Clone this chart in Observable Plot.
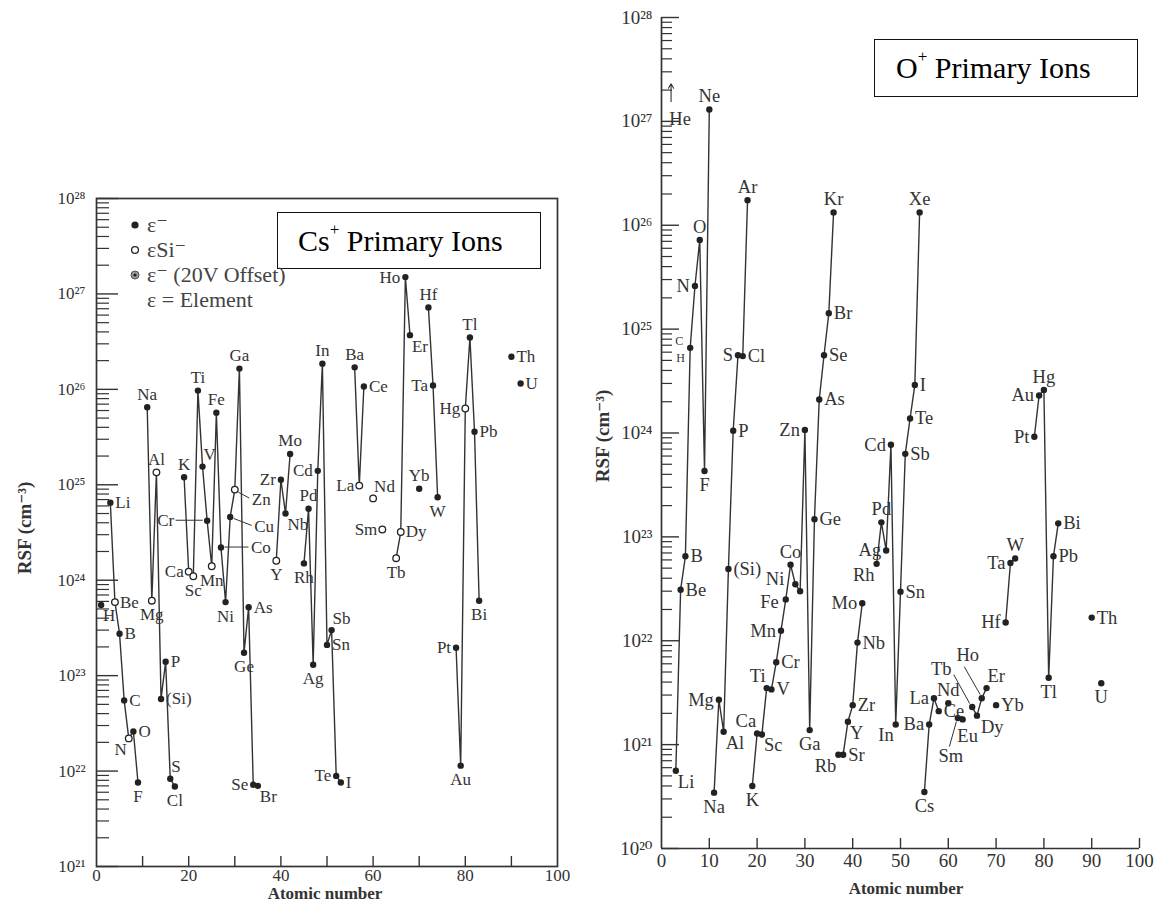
<!DOCTYPE html>
<html>
<head>
<meta charset="utf-8">
<script src="https://cdn.jsdelivr.net/npm/d3@7"></script>
<script src="https://cdn.jsdelivr.net/npm/@observablehq/plot@0.6"></script>
<style>
html,body{margin:0;padding:0;background:#fff;}
body{width:1156px;height:903px;position:relative;overflow:hidden;font-family:"Liberation Serif","Times New Roman",Times,"DejaVu Serif",serif;color:#333;}
.panel{position:absolute;}
.box{position:absolute;border:1.5px solid #111;background:#fff;color:#000;font-size:30px;box-sizing:border-box;display:flex;align-items:center;white-space:nowrap;}
.box sup{font-size:17px;position:relative;top:-11px;vertical-align:0;}
.ytitle{position:absolute;width:200px;height:24px;line-height:24px;text-align:center;font-weight:bold;font-size:19px;transform:rotate(-90deg);color:#333;white-space:nowrap;}
.xtitle{position:absolute;width:220px;height:18px;text-align:center;font-weight:bold;font-size:17px;line-height:18px;color:#333;white-space:nowrap;}
#legend{position:absolute;left:120px;top:210px;}
</style>
</head>
<body>
<div id="left" class="panel" style="left:0;top:150px;width:580px;height:753px"></div>
<div id="right" class="panel" style="left:600px;top:0;width:556px;height:903px"></div>
<div class="box" style="left:277px;top:212px;width:264px;height:57px;padding-left:20px">Cs<sup>+</sup>&nbsp;Primary Ions</div>
<div class="box" style="left:874px;top:39px;width:264px;height:58px;padding-left:21px">O<sup>+</sup>&nbsp;Primary Ions</div>
<div class="ytitle" style="left:-75px;top:516px">RSF (cm⁻³)</div>
<div class="ytitle" style="left:503px;top:424px">RSF (cm⁻³)</div>
<div class="xtitle" style="left:215px;top:885px">Atomic number</div>
<div class="xtitle" style="left:796px;top:880px">Atomic number</div>
<svg id="legend" width="200" height="110"></svg>
<script>
// ---------------- Cs+ primary ions (left panel) ----------------
const csElements = ["H","Li","Be","B","C","N","O","F","Na","Mg","Al","(Si)","P","S","Cl","K","Ca","Sc","Ti","V","Cr","Mn","Fe","Co","Ni","Cu","Zn","Ga","Ge","As","Se","Br","Y","Zr","Nb","Mo","Rh","Pd","Ag","Cd","In","Sn","Sb","Te","I","Ba","La","Ce","Nd","Sm","Tb","Dy","Ho","Er","Yb","Hf","Ta","W","Pt","Au","Hg","Tl","Pb","Bi","Th","U"];
const csZ = [1,3,4,5,6,7,8,9,11,12,13,14,15,16,17,19,20,21,22,23,24,25,26,27,28,29,30,31,32,33,34,35,39,40,41,42,45,46,47,48,49,50,51,52,53,56,57,58,60,62,65,66,67,68,70,72,73,74,78,79,80,81,82,83,90,92];
const csRSF = [5.5e23,6.5e24,5.9e23,2.75e23,5.5e22,2.2e22,2.6e22,7.6e21,
  6.5e25,6.1e23,1.35e25,5.7e22,1.4e23,8.3e21,6.9e21,
  1.2e25,1.23e24,1.1e24,9.7e25,1.55e25,4.2e24,1.4e24,5.7e25,2.2e24,5.9e23,4.6e24,8.9e24,1.65e26,1.74e23,5.2e23,7.2e21,7.0e21,
  1.6e24,1.13e25,5.0e24,2.1e25,1.5e24,5.6e24,1.3e23,1.4e25,1.86e26,2.1e23,3.0e23,8.9e21,7.6e21,
  1.7e26,9.8e24,1.07e26,7.2e24,3.4e24,1.7e24,3.2e24,1.5e27,3.7e26,9.1e24,7.2e26,1.1e26,7.4e24,
  1.96e23,1.14e22,6.3e25,3.5e26,3.6e25,6.1e23,2.2e26,1.15e26];
// "e" = ε⁻ (filled), "eSi" = εSi⁻ (open)
const csIon = ["e","e","eSi","e","e","eSi","e","e",
  "e","eSi","eSi","e","e","e","e",
  "e","eSi","eSi","e","e","e","eSi","e","e","e","e","eSi","e","e","e","e","e",
  "eSi","e","e","e","e","e","e","e","e","e","e","e","e",
  "e","eSi","e","eSi","eSi","eSi","eSi","e","e","e","e","e","e",
  "e","e","eSi","e","e","e","e","e"];
const csChains = [
  ["Li","Be","B","C","N","O","F"],
  ["Na","Mg","Al","(Si)","P","S","Cl"],
  ["K","Ca","Sc","Ti","V","Cr","Mn","Fe","Co","Ni","Cu","Zn","Ga","Ge","As","Se","Br"],
  ["Y","Zr","Nb","Mo"],
  ["Rh","Pd","Ag","Cd","In","Sn","Sb","Te","I"],
  ["Ba","La","Ce"],
  ["Tb","Dy","Ho","Er"],
  ["Hf","Ta","W"],
  ["Pt","Au","Hg","Tl","Pb","Bi"]
];
const csYTicks = [1e21,1e22,1e23,1e24,1e25,1e26,1e27,1e28];
const csYTickLabels = ["10²¹","10²²","10²³","10²⁴","10²⁵","10²⁶","10²⁷","10²⁸"];
const csXTicks = [0,20,40,60,80,100];

// ---------------- O+ primary ions (right panel) ----------------
const oElements = ["H","He","Li","Be","B","C","N","O","F","Ne","Na","Mg","Al","(Si)","P","S","Cl","Ar","K","Ca","Sc","Ti","V","Cr","Mn","Fe","Co","Ni","Cu","Zn","Ga","Ge","As","Se","Br","Kr","Rb","Sr","Y","Zr","Nb","Mo","Rh","Pd","Ag","Cd","In","Sn","Sb","Te","I","Xe","Cs","Ba","La","Ce","Nd","Sm","Eu","Tb","Dy","Ho","Er","Yb","Hf","Ta","W","Pt","Au","Hg","Tl","Pb","Bi","Th","U"];
const oZ = [1,2,3,4,5,6,7,8,9,10,11,12,13,14,15,16,17,18,19,20,21,22,23,24,25,26,27,28,29,30,31,32,33,34,35,36,37,38,39,40,41,42,45,46,47,48,49,50,51,52,53,54,55,56,57,58,60,62,63,65,66,67,68,70,72,73,74,78,79,80,81,82,83,90,92];
const oRSF = [5.2e24,1.55e27,5.6e20,3.1e22,6.5e22,6.6e24,2.6e25,7.2e25,4.3e23,1.3e27,
  3.45e20,2.7e21,1.33e21,4.9e22,1.05e24,5.6e24,5.5e24,1.74e26,
  4.0e20,1.28e21,1.25e21,3.5e21,3.4e21,6.2e21,1.25e22,2.5e22,5.4e22,3.5e22,3.0e22,1.07e24,1.38e21,1.48e23,2.1e24,5.6e24,1.42e25,1.33e26,
  8.0e20,8.0e20,1.66e21,2.4e21,9.6e21,2.3e22,
  5.5e22,1.38e23,7.4e22,7.7e23,1.56e21,2.96e22,6.3e23,1.38e24,2.9e24,1.33e26,
  3.5e20,1.56e21,2.8e21,2.1e21,2.5e21,1.8e21,1.75e21,2.3e21,1.9e21,2.8e21,3.5e21,2.4e21,
  1.5e22,5.6e22,6.2e22,
  9.2e23,2.3e24,2.6e24,4.4e21,6.5e22,1.35e23,
  1.67e22,3.9e21];
const heArrowTip = 2.3e27; // He: off-scale arrow
const oChains = [
  ["Li","Be","B","C","N","O","F","Ne"],
  ["Na","Mg","Al","(Si)","P","S","Cl","Ar"],
  ["K","Ca","Sc","Ti","V","Cr","Mn","Fe","Co","Ni","Cu","Zn","Ga","Ge","As","Se","Br","Kr"],
  ["Rb","Sr","Y","Zr","Nb","Mo"],
  ["Rh","Pd","Ag","Cd","In","Sn","Sb","Te","I","Xe"],
  ["Cs","Ba","La","Ce"],
  ["Sm","Eu"],
  ["Tb","Dy","Ho","Er"],
  ["Hf","Ta","W"],
  ["Pt","Au","Hg","Tl","Pb","Bi"]
];
const oYTicks = [1e20,1e21,1e22,1e23,1e24,1e25,1e26,1e27,1e28];
const oYTickLabels = ["10²⁰","10²¹","10²²","10²³","10²⁴","10²⁵","10²⁶","10²⁷","10²⁸"];
const oXTicks = [0,10,20,30,40,50,60,70,80,90,100];

// ---------------- label placement (styling) ----------------
const basePlaces = {
  r:  {anchor:"start", dx:5, dy:0},
  l:  {anchor:"end", dx:-5, dy:0},
  t:  {anchor:"middle", dx:0, dy:-13},
  b:  {anchor:"middle", dx:0, dy:14},
  tr: {anchor:"start", dx:1, dy:-12},
  tl: {anchor:"end", dx:-1, dy:-12},
  br: {anchor:"start", dx:2, dy:11},
  bl: {anchor:"end", dx:-2, dy:11}
};
const csPlaces = Object.assign({}, basePlaces, {
  Lcr: {anchor:"end", dx:-33, dy:0, leader:[-4,0,-31,0]},
  Lco: {anchor:"start", dx:30, dy:0, leader:[4,0,28,0]},
  Lcu: {anchor:"start", dx:24, dy:10, leader:[4,2,22,9]},
  Lzn: {anchor:"start", dx:17, dy:10, leader:[4,3,15,9]}
});
const oPlaces = Object.assign({}, basePlaces, {
  rs: {anchor:"start", dx:10, dy:0, small:true},
  ls: {anchor:"end", dx:-7, dy:-7, small:true},
  Lhe: {anchor:"middle", dx:9, dy:17},
  Lfe: {anchor:"end", dx:-7, dy:3},
  Lni: {anchor:"end", dx:-11, dy:-5},
  Leu: {anchor:"middle", dx:5, dy:17},
  Ldy: {anchor:"start", dx:4, dy:11},
  Lsm: {anchor:"middle", dx:-7, dy:38, leader:[-1,4,-8,29]},
  Ltb: {anchor:"middle", dx:-31, dy:-38, leader:[-2,-3,-18,-32]},
  Lho: {anchor:"middle", dx:-14, dy:-43, leader:[-1,-3,-17,-31]}
});
const csLabel = {H:"br",Li:"r",Be:"r",B:"r",C:"r",N:"bl",O:"r",F:"b",Na:"t",Mg:"b",Al:"t","(Si)":"r",P:"r",S:"tr",Cl:"b",
  K:"t",Ca:"l",Sc:"b",Ti:"t",V:"tr",Cr:"Lcr",Mn:"b",Fe:"t",Co:"Lco",Ni:"b",Cu:"Lcu",Zn:"Lzn",Ga:"t",Ge:"b",As:"r",Se:"l",Br:"br",
  Y:"b",Zr:"l",Nb:"br",Mo:"t",Rh:"b",Pd:"t",Ag:"b",Cd:"l",In:"t",Sn:"r",Sb:"tr",Te:"l",I:"r",
  Ba:"t",La:"l",Ce:"r",Nd:"tr",Sm:"l",Tb:"b",Dy:"r",Ho:"l",Er:"br",Yb:"t",Hf:"t",Ta:"l",W:"b",
  Pt:"l",Au:"b",Hg:"l",Tl:"t",Pb:"r",Bi:"b",Th:"r",U:"r"};
const oLabel = {H:"rs",He:"Lhe",Li:"br",Be:"r",B:"r",C:"ls",N:"l",O:"t",F:"b",Ne:"t",Na:"b",Mg:"l",Al:"br","(Si)":"r",P:"r",S:"l",Cl:"r",Ar:"t",
  K:"b",Ca:"tl",Sc:"br",Ti:"tl",V:"r",Cr:"r",Mn:"l",Fe:"Lfe",Co:"t",Ni:"Lni",Zn:"l",Ga:"b",Ge:"r",As:"r",Se:"r",Br:"r",Kr:"t",
  Rb:"bl",Sr:"r",Y:"br",Zr:"r",Nb:"r",Mo:"l",Rh:"bl",Pd:"t",Ag:"l",Cd:"l",In:"bl",Sn:"r",Sb:"r",Te:"r",I:"r",Xe:"t",
  Cs:"b",Ba:"l",La:"l",Ce:"r",Nd:"t",Sm:"Lsm",Eu:"Leu",Tb:"Ltb",Dy:"Ldy",Ho:"Lho",Er:"tr",Yb:"r",
  Hf:"l",Ta:"l",W:"t",Pt:"l",Au:"l",Hg:"t",Tl:"b",Pb:"r",Bi:"r",Th:"r",U:"b"};

const INK = "#333";
const FONT = "'Liberation Serif', 'Times New Roman', Times, 'DejaVu Serif', serif";

function minorTicks(lo, hi) {
  const out = [];
  for (let e = lo; e < hi; e++) for (let m = 2; m <= 9; m++) out.push(m * Math.pow(10, e));
  return out;
}

function makePanel(cfg) {
  const W = cfg.width - cfg.ml - cfg.mr, H = cfg.height - cfg.mt - cfg.mb;
  const xs = d3.scaleLinear([0, 100], [cfg.ml, cfg.width - cfg.mr]);
  const ys = d3.scaleLog(cfg.yDomain, [cfg.height - cfg.mb, cfg.mt]);
  const rows = cfg.rows;
  const byEl = new Map(rows.map(r => [r.el, r]));
  const lineRows = cfg.chains.flatMap((ch, k) => ch.map(el => ({...byEl.get(el), chain: k})));
  const marks = [];
  if (cfg.frame) marks.push(Plot.frame({stroke: INK, strokeWidth: 1.7}));
  else marks.push(
    Plot.ruleX([0], {stroke: INK, strokeWidth: 1.7}),
    Plot.ruleY([cfg.yDomain[0]], {stroke: INK, strokeWidth: 1.7})
  );
  marks.push(
    Plot.tickY(cfg.yMinor, {y: d => d, insetRight: W - cfg.minorLen, stroke: INK, strokeWidth: 1.2}),
    Plot.tickY(cfg.yTicks, {y: d => d, insetRight: W - cfg.majorLen, stroke: INK, strokeWidth: 1.4}),
    Plot.tickX(cfg.xTickMarks, {x: d => d, insetTop: H - cfg.xTickLen, stroke: INK, strokeWidth: 1.4}),
    Plot.axisY({ticks: cfg.yTicks, tickSize: 0, tickPadding: cfg.yPad, tickFormat: d => cfg.yLabels[cfg.yTicks.indexOf(d)], fontSize: cfg.tickFont, fontFamily: FONT, label: null}),
    Plot.axisX({ticks: cfg.xLabelTicks, tickSize: 0, tickPadding: cfg.xPad, fontSize: cfg.tickFont, fontFamily: FONT, label: null}),
    Plot.line(lineRows, {x: "Z", y: "v", z: "chain", stroke: INK, strokeWidth: 1.4})
  );
  // leader lines for labels placed away from their points
  marks.push(() => {
    const g = d3.create("svg:g").attr("stroke", INK).attr("stroke-width", 1);
    rows.forEach(r => {
      const p = cfg.places[r.place];
      if (!p || !p.leader) return;
      const x = xs(r.Z), y = ys(r.v);
      g.append("line").attr("x1", x + p.leader[0]).attr("y1", y + p.leader[1])
        .attr("x2", x + p.leader[2]).attr("y2", y + p.leader[3]);
    });
    return g.node();
  });
  if (cfg.arrows) marks.push(Plot.arrow(cfg.arrows, {x1: "Z", x2: "Z", y1: "v", y2: "tip", stroke: INK, strokeWidth: 1.1, headLength: 7}));
  marks.push(
    Plot.dot(rows.filter(r => r.mark === "e"), {x: "Z", y: "v", r: 3.2, fill: "#222", stroke: "none"}),
    Plot.dot(rows.filter(r => r.mark === "eSi"), {x: "Z", y: "v", r: 3.3, fill: "white", stroke: "#222", strokeWidth: 1.3})
  );
  const codes = [...new Set(rows.map(r => r.place).filter(Boolean))];
  for (const code of codes) {
    const p = cfg.places[code];
    marks.push(Plot.text(rows.filter(r => r.place === code), {
      x: "Z", y: "v", text: "el", textAnchor: p.anchor, dx: p.dx, dy: p.dy,
      fontSize: p.small ? cfg.smallFont : cfg.labelFont, fontFamily: FONT, fill: INK
    }));
  }
  return Plot.plot({
    width: cfg.width, height: cfg.height,
    marginLeft: cfg.ml, marginRight: cfg.mr, marginTop: cfg.mt, marginBottom: cfg.mb,
    x: {domain: [0, 100]},
    y: {type: "log", domain: cfg.yDomain},
    style: {fontFamily: FONT, fontSize: cfg.tickFont + "px", color: INK, background: "transparent"},
    marks
  });
}

const csRows = csElements.map((el, i) => ({el, Z: csZ[i], v: csRSF[i], mark: csIon[i], place: csLabel[el]}));
const oRows = oElements.map((el, i) => ({el, Z: oZ[i], v: oRSF[i],
  mark: el === "H" ? "none" : el === "He" ? "arrow" : "e", place: oLabel[el]}));

const left = makePanel({
  rows: csRows, chains: csChains, places: csPlaces,
  width: 580, height: 753, ml: 96, mr: 23, mt: 48, mb: 37,
  yDomain: [1e21, 1e28], yTicks: csYTicks, yLabels: csYTickLabels, yMinor: minorTicks(21, 28),
  xTickMarks: [10,20,30,40,50,60,70,80,90], xLabelTicks: csXTicks,
  majorLen: 22, minorLen: 13, xTickLen: 10, yPad: 11, xPad: 2,
  tickFont: 17, labelFont: 17, smallFont: 12, frame: true
});
document.getElementById("left").appendChild(left);

const right = makePanel({
  rows: oRows, chains: oChains, places: oPlaces,
  arrows: oRows.filter(r => r.mark === "arrow").map(r => ({...r, tip: heArrowTip})),
  width: 556, height: 903, ml: 61, mr: 17, mt: 17, mb: 55,
  yDomain: [1e20, 1e28], yTicks: oYTicks, yLabels: oYTickLabels, yMinor: minorTicks(20, 28),
  xTickMarks: [10,20,30,40,50,60,70,80,90,100], xLabelTicks: oXTicks,
  majorLen: 18, minorLen: 11, xTickLen: 10, yPad: 9, xPad: 5,
  tickFont: 19, labelFont: 18.5, smallFont: 12, frame: false
});
document.getElementById("right").appendChild(right);

// legend of the Cs+ panel
const legendItems = ["ε⁻", "εSi⁻", "ε⁻ (20V Offset)", "ε = Element"];
const legendMarks = ["e", "eSi", "e20", null];
const lg = d3.select("#legend").attr("font-family", FONT).attr("font-size", 22).attr("fill", "#444");
legendItems.forEach((t, i) => {
  const y = 15 + i * 25;
  const m = legendMarks[i];
  if (m === "e") lg.append("circle").attr("cx", 15).attr("cy", y).attr("r", 3.6).attr("fill", "#222");
  if (m === "eSi") lg.append("circle").attr("cx", 15).attr("cy", y).attr("r", 3.4).attr("fill", "white").attr("stroke", "#222").attr("stroke-width", 1.3);
  if (m === "e20") {
    lg.append("circle").attr("cx", 15).attr("cy", y).attr("r", 4).attr("fill", "#999").attr("stroke", "#555").attr("stroke-width", 1);
    lg.append("circle").attr("cx", 15).attr("cy", y).attr("r", 1.6).attr("fill", "#222");
  }
  lg.append("text").attr("x", 27).attr("y", y + 7).text(t);
});
</script>
</body>
</html>
